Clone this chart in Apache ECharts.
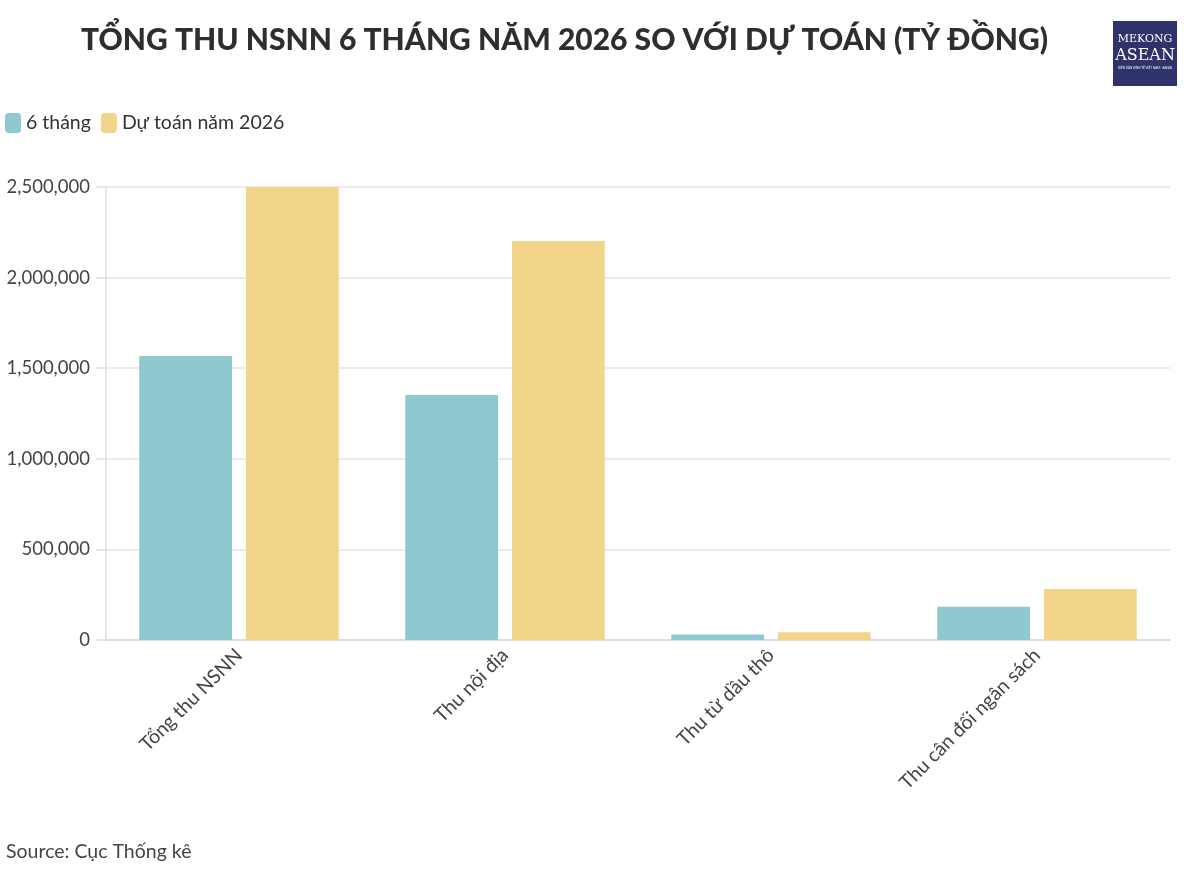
<!DOCTYPE html>
<html>
<head>
<meta charset="utf-8">
<title>Tổng thu NSNN 6 tháng năm 2026</title>
<script src="https://cdn.jsdelivr.net/npm/echarts@6/dist/echarts.min.js"></script>
<style>
    html, body { margin: 0; padding: 0; background: #fff; }
    #chart { width: 1200px; height: 875px; }
</style>
</head>
<body>
<div id="chart"></div>
<script>
// du lieu doc tu bieu do (ty dong)
var categories = ['Tổng thu NSNN', 'Thu nội địa', 'Thu từ dầu thô', 'Thu cân đối ngân sách'];
var seriesNames = ['6 tháng', 'Dự toán năm 2026'];
var sixMonths = [1567000, 1352000, 31000, 184000];
var budget2026 = [2500000, 2202000, 42500, 281000];

var colors = ['#8ec9d0', '#f2d48b'];
var font = 'Lato';

var chart = echarts.init(document.getElementById('chart'));

chart.setOption({
    backgroundColor : '#ffffff',
    animation : false,
    textStyle : { fontFamily : font },
    title : {
        text : 'TỔNG THU NSNN 6 THÁNG NĂM 2026 SO VỚI DỰ TOÁN (TỶ ĐỒNG)',
        left : 76,
        top : 20,
        textStyle : {
            fontFamily : font,
            fontWeight : 900,
            fontSize : 30,
            color : '#2e2e2e'
        }
    },
    legend : {
        left : 5,
        top : 113,
        padding : 0,
        icon : 'roundRect',
        itemWidth : 16,
        itemHeight : 20,
        itemGap : 10,
        data : seriesNames,
        textStyle : { fontSize : 19.5, color : '#333', fontFamily : font }
    },
    grid : {
        left : 106,
        right : 30,
        top : 187,
        bottom : 235
    },
    xAxis : {
        type : 'category',
        data : categories,
        axisLine : { lineStyle : { color : '#dedede', width : 2 } },
        axisTick : { alignWithLabel : true, length : 8, lineStyle : { color : '#dedede', width : 2 } },
        axisLabel : {
            rotate : 45,
            margin : 12,
            fontSize : 19.5,
            color : '#444',
            fontFamily : font
        }
    },
    yAxis : {
        type : 'value',
        min : 0,
        max : 2500000,
        interval : 500000,
        axisLine : { show : true, lineStyle : { color : '#e6e6e6', width : 2 } },
        axisTick : { show : true, length : 10, lineStyle : { color : '#e6e6e6', width : 2 } },
        splitLine : { lineStyle : { color : '#ebebeb', width : 2 } },
        axisLabel : {
            margin : 16,
            fontSize : 18.5,
            color : '#444',
            fontFamily : font,
            formatter : function (v) { return v.toLocaleString('en-US'); }
        }
    },
    series : [
        {
            name : seriesNames[0],
            type : 'bar',
            data : sixMonths,
            barCategoryGap : '25%',
            barGap : '15%',
            itemStyle : { color : colors[0] }
        },
        {
            name : seriesNames[1],
            type : 'bar',
            data : budget2026,
            barCategoryGap : '25%',
            barGap : '15%',
            itemStyle : { color : colors[1] }
        }
    ],
    graphic : [
        {
            type : 'text',
            left : 6,
            top : 842,
            style : { text : 'Source: Cục Thống kê', fontSize : 19.5, fill : '#444', fontFamily : font }
        },
        // logo
        {
            type : 'group',
            left : 1113,
            top : 21,
            children : [
                { type : 'rect', shape : { x : 0, y : 0, width : 64, height : 65 }, style : { fill : '#2f3369' } },
                { type : 'text', x : 32, y : 18, style : { text : 'MEKONG', fontSize : 11, fontFamily : 'DejaVu Serif', fill : '#fff', align : 'center', verticalAlign : 'middle' } },
                { type : 'text', x : 32, y : 35, style : { text : 'ASEAN', fontSize : 16, fontFamily : 'DejaVu Serif', fill : '#fff', align : 'center', verticalAlign : 'middle' } },
                { type : 'text', x : 32, y : 47, style : { text : 'DIỄN ĐÀN KINH TẾ VIỆT NAM - ASEAN', fontSize : 3, fontFamily : font, fill : '#fff', align : 'center', verticalAlign : 'middle' } }
            ]
        }
    ]
});
</script>
</body>
</html>
